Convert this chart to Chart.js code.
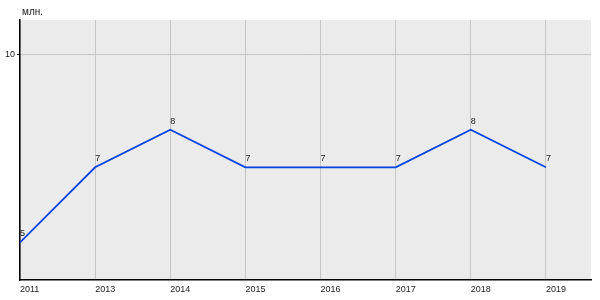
<!DOCTYPE html>
<html>
<head>
<meta charset="utf-8">
<script src="https://cdn.jsdelivr.net/npm/chart.js@4/dist/chart.umd.min.js"></script>
<style>
  html, body { margin: 0; padding: 0; background: #fff; }
  #wrap { width: 600px; height: 300px; }
</style>
</head>
<body>
<div id="wrap"><canvas id="grafico"></canvas></div>
<script>
var years = ['2011', '2013', '2014', '2015', '2016', '2017', '2018', '2019'];
var values = [5, 7, 8, 7, 7, 7, 8, 7];
var yTicks = [10];
var unitLabel = 'млн.';

var FONT = "'Liberation Sans', Arial, sans-serif";

var bgPlugin = {
  id: 'bg',
  beforeDraw: function(chart){
    var a = chart.chartArea;
    var ctx = chart.ctx;
    ctx.save();
    ctx.fillStyle = '#ebebeb';
    ctx.fillRect(a.left, a.top, a.right - a.left, a.bottom - a.top);
    ctx.restore();
  },
  afterDraw: function(chart){
    var ctx = chart.ctx;
    var meta = chart.getDatasetMeta(0);
    ctx.save();
    ctx.font = '9px ' + FONT;
    ctx.fillStyle = '#222';
    ctx.textAlign = 'left';
    ctx.textBaseline = 'bottom';
    meta.data.forEach(function(pt, i){
      ctx.fillText(String(values[i]), pt.x, pt.y - 4);
    });
    ctx.font = '10px ' + FONT;
    ctx.fillText(unitLabel, chart.chartArea.left + 2, 17);
    ctx.restore();
  }
};

function buildPoints(){
  var pts = [];
  for (var i = 0; i < values.length; i++) {
    pts.push({x: i, y: values[i]});
  }
  return pts;
}

new Chart(document.getElementById('grafico'), {
  type: 'line',
  data: {
    datasets: [{
      data: buildPoints(),
      borderColor: '#0044e0',
      borderWidth: 1.8,
      tension: 0,
      pointRadius: 0,
      fill: false
    }]
  },
  options: {
    responsive: true,
    maintainAspectRatio: false,
    animation: false,
    layout: { padding: { top: 20, right: 9, left: 0, bottom: 0 } },
    plugins: {
      legend: { display: false },
      tooltip: { enabled: false }
    },
    scales: {
      x: {
        type: 'linear',
        min: 0,
        max: 7.6,
        afterBuildTicks: function(scale){
          scale.ticks = years.map(function(y, i){ return {value: i}; });
        },
        afterFit: function(scale){ scale.height = 20; },
        ticks: {
          align: 'start',
          autoSkip: false,
          maxRotation: 0,
          padding: 4,
          color: '#222',
          font: { size: 9, family: FONT },
          callback: function(v){ return years[v]; }
        },
        grid: { color: '#c6c6c6', lineWidth: 1, drawTicks: false },
        border: { color: '#000', width: 1.5 }
      },
      y: {
        min: 4,
        max: 10.92,
        afterBuildTicks: function(scale){
          scale.ticks = yTicks.map(function(v){ return {value: v}; });
        },
        afterFit: function(scale){ scale.width = 20; },
        ticks: {
          padding: 2,
          color: '#222',
          font: { size: 9, family: FONT }
        },
        grid: { color: '#c6c6c6', lineWidth: 1, tickLength: 3, tickColor: '#000' },
        border: { color: '#000', width: 1.5 }
      }
    }
  },
  plugins: [bgPlugin]
});
</script>
</body>
</html>
